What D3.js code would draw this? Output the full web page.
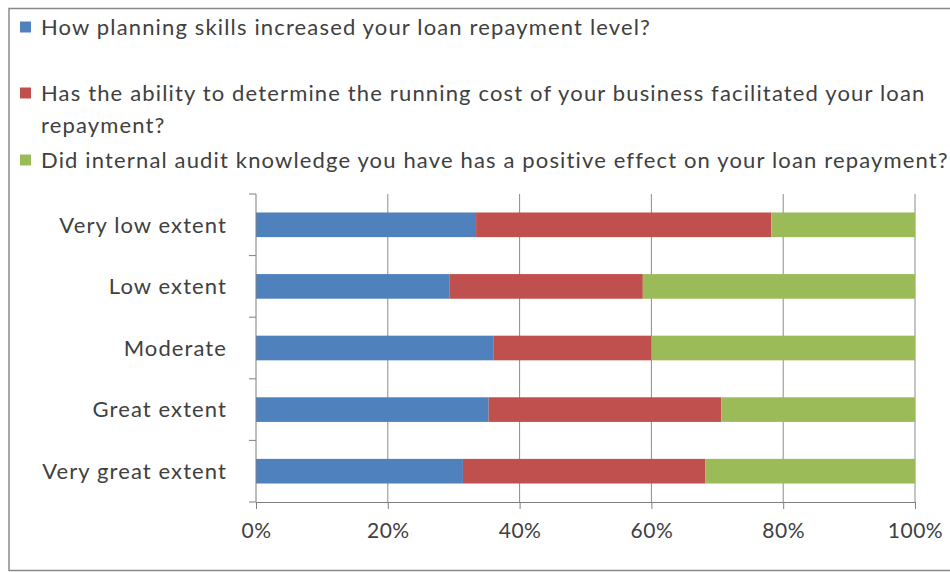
<!DOCTYPE html>
<html>
<head>
<meta charset="utf-8">
<script src="https://cdn.jsdelivr.net/npm/d3@7/dist/d3.min.js"></script>
<style>
  html, body { margin: 0; background: #fff; overflow: hidden; }
  svg { display: block; }
  svg text { font-family: Lato, "Open Sans", sans-serif; fill: #404040; }
</style>
</head>
<body>
<svg id="chart" width="950" height="572"></svg>
<script>
// chart values (percent of each row)
var categories = ["Very low extent", "Low extent", "Moderate", "Great extent", "Very great extent"];
var planning   = [33.4, 29.4, 36.0, 35.3, 31.4];
var runningCost = [44.8, 29.3, 24.0, 35.3, 36.8];
var audit      = [21.8, 41.3, 40.0, 29.4, 31.8];
var seriesNames = [
  ["How planning skills increased your loan repayment level?"],
  ["Has the ability to determine the running cost of your business facilitated your loan", "repayment?"],
  ["Did internal audit knowledge you have has a positive effect on your loan repayment?"]
];
var xTicks = [0, 20, 40, 60, 80, 100];

var colors = ["#4f81bd", "#c0504d", "#9bbb59"];
var keys = ["planning", "runningCost", "audit"];

var rows = categories.map(function(c, i) {
  return { cat: c, planning: planning[i], runningCost: runningCost[i], audit: audit[i] };
});

var svg = d3.select("#chart");

// outer frame (right side runs off the picture)
svg.append("rect")
  .attr("x", 9).attr("y", 8.5)
  .attr("width", 960).attr("height", 562)
  .attr("fill", "none")
  .attr("stroke", "#8a8a8a")
  .attr("stroke-width", 1.5);

var plot = { left: 256, right: 915, top: 194, bottom: 502 };

var x = d3.scaleLinear().domain([0, 100]).range([plot.left, plot.right]);
var y = d3.scaleBand().domain(categories)
  .range([plot.top, plot.bottom])
  .paddingInner(0.6).paddingOuter(0.3);

// gridlines
svg.append("g").selectAll("line")
  .data(xTicks.slice(1))
  .enter().append("line")
    .attr("x1", function(d) { return x(d); })
    .attr("x2", function(d) { return x(d); })
    .attr("y1", plot.top).attr("y2", plot.bottom)
    .attr("stroke", "#8c8c8c").attr("stroke-width", 1);

// stacked bars, normalised to 100%
var stacked = d3.stack().keys(keys)(rows);
var normal = rows.map(function(r) { return r.planning + r.runningCost + r.audit; });

svg.append("g").selectAll("g")
  .data(stacked)
  .enter().append("g")
    .attr("fill", function(d, i) { return colors[i]; })
  .selectAll("rect")
  .data(function(d) { return d; })
  .enter().append("rect")
    .attr("x", function(d, i) { return x(d[0] / normal[i] * 100); })
    .attr("width", function(d, i) { return x(d[1] / normal[i] * 100) - x(d[0] / normal[i] * 100); })
    .attr("y", function(d) { return y(d.data.cat); })
    .attr("height", y.bandwidth());

// x axis
var xAxis = svg.append("g")
  .attr("transform", "translate(0," + plot.bottom + ")")
  .call(d3.axisBottom(x).tickValues(xTicks).tickSize(7).tickPadding(14)
    .tickFormat(function(d) { return d + "%"; }));
xAxis.select(".domain").attr("stroke", "#7f7f7f");
xAxis.selectAll(".tick line").attr("stroke", "#7f7f7f");
xAxis.selectAll("text")
  .style("font-size", "21px")
  .style("letter-spacing", "0.5px")
  .attr("fill", "#404040");

// y axis: vertical line with ticks between categories
var bounds = d3.range(categories.length + 1).map(function(i) {
  return plot.top + i * (plot.bottom - plot.top) / categories.length;
});
var yAxis = svg.append("g");
yAxis.append("line")
  .attr("x1", plot.left).attr("x2", plot.left)
  .attr("y1", plot.top).attr("y2", plot.bottom)
  .attr("stroke", "#7f7f7f");
yAxis.selectAll("line.tick")
  .data(bounds)
  .enter().append("line")
    .attr("class", "tick")
    .attr("x1", plot.left - 7).attr("x2", plot.left)
    .attr("y1", function(d) { return d; }).attr("y2", function(d) { return d; })
    .attr("stroke", "#7f7f7f");
yAxis.selectAll("text")
  .data(categories)
  .enter().append("text")
    .attr("x", plot.left - 29)
    .attr("y", function(d) { return y(d) + y.bandwidth() / 2; })
    .attr("dy", "0.35em")
    .attr("text-anchor", "end")
    .style("font-size", "22px")
    .style("letter-spacing", "1.1px")
    .text(function(d) { return d; });

// legend
var legendY = [27, 93, 160];
var legend = svg.append("g");
seriesNames.forEach(function(lines, i) {
  legend.append("rect")
    .attr("x", 20).attr("y", legendY[i] - 5.5)
    .attr("width", 11).attr("height", 11)
    .attr("fill", colors[i]);
  lines.forEach(function(t, j) {
    legend.append("text")
      .attr("x", 41)
      .attr("y", legendY[i] + j * 32)
      .attr("dy", "0.35em")
      .style("font-size", "22px")
      .style("letter-spacing", "1.15px")
      .text(t);
  });
});
</script>
</body>
</html>
